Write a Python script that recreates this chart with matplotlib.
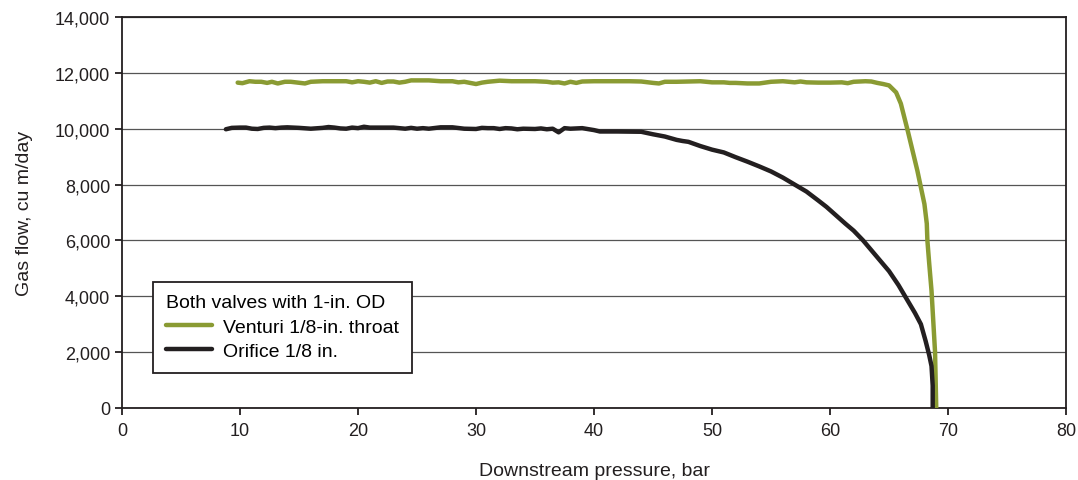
import matplotlib.pyplot as plt
from matplotlib.ticker import FuncFormatter

plt.rcParams['font.family'] = ['Liberation Sans', 'DejaVu Sans']

# Venturi 1/8-in. throat
venturi_p = [9.8, 10.2, 10.8, 11.3, 11.8, 12.3, 12.7, 13.2, 13.8, 14.3, 14.9, 15.5, 16.0, 17, 18, 19,
             19.5, 20, 20.5, 21, 21.5, 22, 22.5, 23, 23.5, 24, 24.5, 25, 26, 27, 28, 28.5, 29, 29.5,
             30, 30.5, 31, 32, 33, 34, 35, 36, 36.5, 37, 37.5, 38, 38.5, 39, 40, 41, 42, 43, 44, 45,
             45.5, 46, 47, 48, 49, 50, 51, 51.5, 52, 53, 54, 55, 56, 57, 57.5, 58, 59, 60, 61, 61.5,
             62, 63, 63.5, 64, 64.5, 65.0, 65.6, 66.0, 66.3, 66.6, 67.0, 67.4, 67.7, 68.0, 68.2,
             68.25, 68.4, 68.6, 68.75, 68.9, 68.95, 69.0]
venturi_q = [11650, 11630, 11700, 11680, 11680, 11640, 11680, 11620, 11680, 11680, 11650, 11620, 11680,
             11700, 11700, 11700, 11660, 11700, 11680, 11650, 11700, 11640, 11690, 11690, 11650, 11680,
             11730, 11730, 11730, 11700, 11700, 11660, 11680, 11640, 11600, 11650, 11680, 11720, 11700,
             11700, 11700, 11680, 11650, 11660, 11620, 11680, 11640, 11690, 11700, 11700, 11700, 11700,
             11690, 11640, 11620, 11680, 11680, 11690, 11700, 11660, 11660, 11640, 11640, 11620, 11620,
             11680, 11700, 11660, 11690, 11660, 11650, 11650, 11660, 11630, 11680, 11700, 11690, 11640,
             11600, 11550, 11300, 10900, 10400, 9900, 9200, 8500, 7900, 7300, 6600, 6000, 5200, 4200,
             3100, 2000, 1000, 0]

# Orifice 1/8 in.
orifice_p = [8.8, 9.3, 10, 10.5, 11, 11.5, 12, 12.5, 13, 13.5, 14, 14.5, 15, 16, 17, 17.5, 18, 18.5, 19,
             19.5, 20, 20.5, 21, 22, 23, 24, 24.5, 25, 25.5, 26, 27, 28, 29, 30, 30.5, 31, 31.5, 32,
             32.5, 33, 33.5, 34, 35, 35.5, 36, 36.5, 37, 37.5, 38, 39, 40, 40.5, 42, 44, 45, 46, 47,
             47.5, 48, 49, 50, 51, 52, 53, 54, 55, 56, 57, 58, 59, 59.7, 60.5, 61.3, 62, 62.8, 63.5,
             64.2, 65, 65.8, 66.5, 67.2, 67.7, 68.1, 68.4, 68.6, 68.7, 68.7]
orifice_q = [9980, 10030, 10040, 10040, 10000, 9990, 10030, 10040, 10020, 10040, 10050, 10040, 10030,
             10000, 10030, 10060, 10040, 10010, 10000, 10040, 10020, 10070, 10040, 10040, 10040, 10000,
             10030, 10000, 10020, 10000, 10050, 10050, 10000, 9990, 10030, 10020, 10020, 9990, 10020,
             10010, 9980, 10000, 9990, 10010, 9980, 10000, 9870, 10020, 10000, 10020, 9950, 9900, 9900,
             9890, 9800, 9720, 9600, 9560, 9530, 9380, 9250, 9150, 8980, 8820, 8650, 8470, 8250, 8000,
             7750, 7430, 7200, 6900, 6600, 6350, 6000, 5650, 5300, 4900, 4400, 3900, 3400, 3000, 2400,
             1900, 1500, 800, 0]

fig = plt.figure(figsize=(10.78, 4.81), dpi=100)
ax = fig.add_axes([0.1132, 0.1497, 0.8757, 0.8129])

ax.plot(venturi_p, venturi_q, color='#8a9b33', lw=3.2, solid_capstyle='round',
        label='Venturi 1/8-in. throat', zorder=3)
ax.plot(orifice_p, orifice_q, color='#231f20', lw=3.2, solid_capstyle='round',
        label='Orifice 1/8 in.', zorder=3)

ax.set_xlim(0, 80)
ax.set_ylim(0, 14000)
ax.set_xticks(range(0, 81, 10))
ax.set_yticks(range(0, 14001, 2000))
ax.yaxis.set_major_formatter(FuncFormatter(lambda v, p: f'{int(v):,}'))
ax.grid(axis='y', color='#555555', lw=0.9)
ax.set_axisbelow(True)

for s in ax.spines.values():
    s.set_linewidth(1.3)
    s.set_color('#231f20')
ax.tick_params(axis='both', labelsize=13, width=1.3, length=5, color='#231f20', labelcolor='#231f20')
ax.tick_params(axis='x', pad=5)

ax.set_xlabel('Downstream pressure, bar', fontsize=14, labelpad=17, color='#231f20')
ax.set_ylabel('Gas flow, cu m/day', fontsize=14, labelpad=16, color='#231f20')

leg = ax.legend(title='Both valves with 1-in. OD', loc='lower left', bbox_to_anchor=(0.033, 0.09),
                borderaxespad=0, fontsize=14, title_fontsize=14, alignment='left',
                fancybox=False, framealpha=1, edgecolor='#231f20', handlelength=2.4,
                handletextpad=0.55, borderpad=0.65, labelspacing=0.35)
leg.get_frame().set_linewidth(1.3)

plt.savefig('out.png', dpi=100)
